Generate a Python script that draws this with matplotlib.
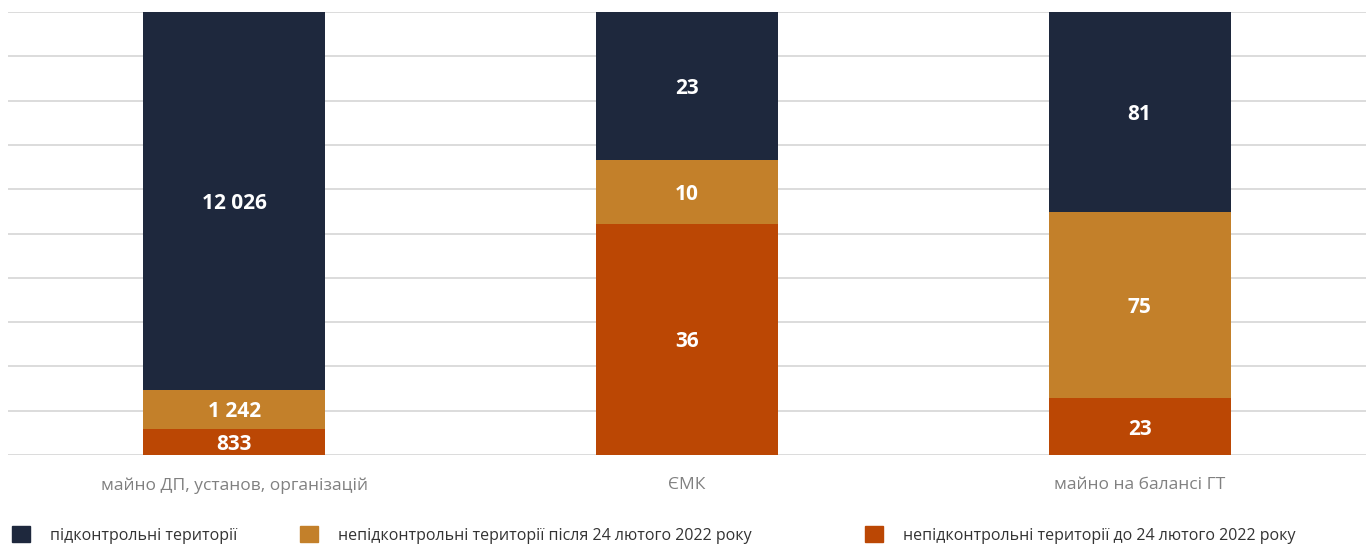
import matplotlib
matplotlib.use('Agg')
from matplotlib import pyplot as plt
from matplotlib.patches import Patch
import numpy as np

# Data
categories = ['майно ДП, установ, організацій', 'ЄМК', 'майно на балансі ГТ']
series_names = ['підконтрольні території',
                'непідконтрольні території після 24 лютого 2022 року',
                'непідконтрольні території до 24 лютого 2022 року']
before_feb = [833, 36, 23]
after_feb = [1242, 10, 75]
controlled = [12026, 23, 81]

colors = {'controlled': '#1e283d', 'after': '#c3802a', 'before': '#bb4704'}

plt.rcParams['font.family'] = ['Open Sans', 'DejaVu Sans']


def fmt(v):
    return '{:,}'.format(v).replace(',', ' ')


before = np.array(before_feb, dtype=float)
after = np.array(after_feb, dtype=float)
ctrl = np.array(controlled, dtype=float)
total = before + after + ctrl
p_before = 100 * before / total
p_after = 100 * after / total
p_ctrl = 100 * ctrl / total

fig = plt.figure(figsize=(13.71, 5.44), dpi=100)
ax = fig.add_axes([8 / 1371, 89 / 544, 1358 / 1371, 443 / 544])

x = np.arange(len(categories))
w = 0.402
ax.bar(x, p_before, w, color=colors['before'], zorder=2)
ax.bar(x, p_after, w, bottom=p_before, color=colors['after'], zorder=2)
ax.bar(x, p_ctrl, w, bottom=p_before + p_after, color=colors['controlled'], zorder=2)

for i in range(len(categories)):
    segs = [(p_before[i], 0, before_feb[i]),
            (p_after[i], p_before[i], after_feb[i]),
            (p_ctrl[i], p_before[i] + p_after[i], controlled[i])]
    for h, b, v in segs:
        ax.text(x[i], b + h / 2, fmt(v), ha='center', va='center_baseline',
                color='white', fontsize=15, fontweight='bold', zorder=3)

ax.set_xlim(-0.5, 2.5)
ax.set_ylim(0, 100)
ax.set_yticks(np.arange(0, 101, 10))
ax.yaxis.grid(True, color='#d9d9d9', linewidth=1.3, zorder=0)
ax.set_yticklabels([])
ax.tick_params(axis='y', length=0)
ax.set_xticks(x)
ax.set_xticklabels(categories, color='#808080', fontsize=12.5)
ax.tick_params(axis='x', length=0, pad=16)
for s in ax.spines.values():
    s.set_visible(False)

# legend entries placed individually, as in the reference
leg_x = [12 / 1371, 300 / 1371, 865 / 1371]
keys = ['controlled', 'after', 'before']
for lx, k, name in zip(leg_x, keys, series_names):
    lg = fig.legend(handles=[Patch(color=colors[k])], labels=[name],
                    loc='center left', bbox_to_anchor=(lx, 9 / 544),
                    frameon=False, fontsize=11.5, handlelength=1.1,
                    handleheight=1.1, handletextpad=1.3, borderpad=0,
                    borderaxespad=0)
    for t in lg.get_texts():
        t.set_color('#333333')

plt.savefig('out.png', dpi=100)
